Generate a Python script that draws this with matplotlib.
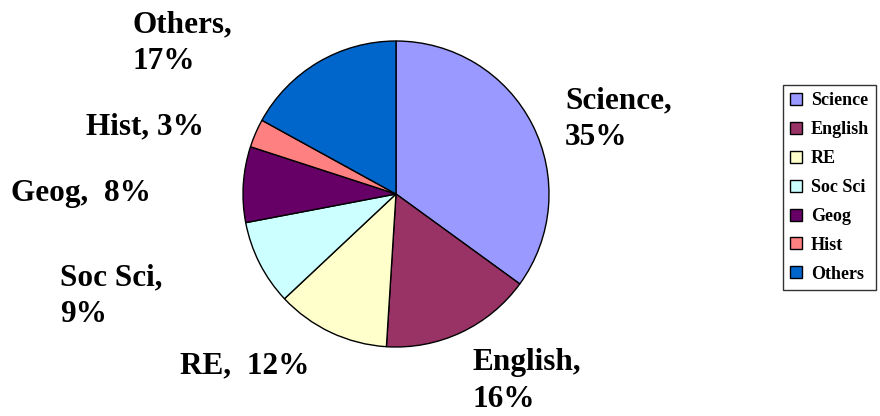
import matplotlib
matplotlib.use("Agg")
import matplotlib.pyplot as plt

categories = ["Science", "English", "RE", "Soc Sci", "Geog", "Hist", "Others"]
values = [35, 16, 12, 9, 8, 3, 17]
colors = ["#9999FF", "#993366", "#FFFFCC", "#CCFFFF", "#660066", "#FF8080", "#0066CC"]
label_texts = ["Science,\n35%", "English,\n16%", "RE,  12%", "Soc Sci,\n9%",
               "Geog,  8%", "Hist, 3%", "Others,\n17%"]

W, H = 880, 416
fig = plt.figure(figsize=(W / 100, H / 100), dpi=100)
cx, cy, r = 396, 194, 153
ax = fig.add_axes([(cx - r) / W, (H - cy - r) / H, 2 * r / W, 2 * r / H])
wedges, _ = ax.pie(values, colors=colors, startangle=90, counterclock=False,
                   radius=1, wedgeprops=dict(edgecolor="black", linewidth=1))
ax.set_xlim(-1, 1)
ax.set_ylim(-1, 1)
ax.set_aspect("equal")
ax.axis("off")

font = dict(family="Liberation Serif", weight="bold", size=22.5)
# label anchor positions (data coords) and alignment
label_pos = [(1.105, 0.49, "left"), (0.497, -1.222, "left"), (-0.987, -1.124, "center"),
             (-2.196, -0.667, "left"), (-2.059, 0.0, "center"), (-1.641, 0.438, "center"),
             (-1.719, 0.987, "left")]
for txt, (x, y, ha) in zip(label_texts, label_pos):
    ax.text(x, y, txt, ha=ha, va="center", multialignment="left",
            linespacing=1.35, clip_on=False, **font)

leg = fig.legend(wedges, categories, loc="upper left",
                 bbox_to_anchor=(783 / W, 1 - 85 / H), borderaxespad=0,
                 prop=dict(family="Liberation Serif", weight="bold", size=13),
                 frameon=True, fancybox=False, shadow=False,
                 handlelength=0.65, handleheight=0.65, handletextpad=0.5,
                 labelspacing=0.66, borderpad=0.4)
leg.get_frame().set_edgecolor("black")
leg.get_frame().set_linewidth(1)

fig.savefig("out.png", dpi=100)
